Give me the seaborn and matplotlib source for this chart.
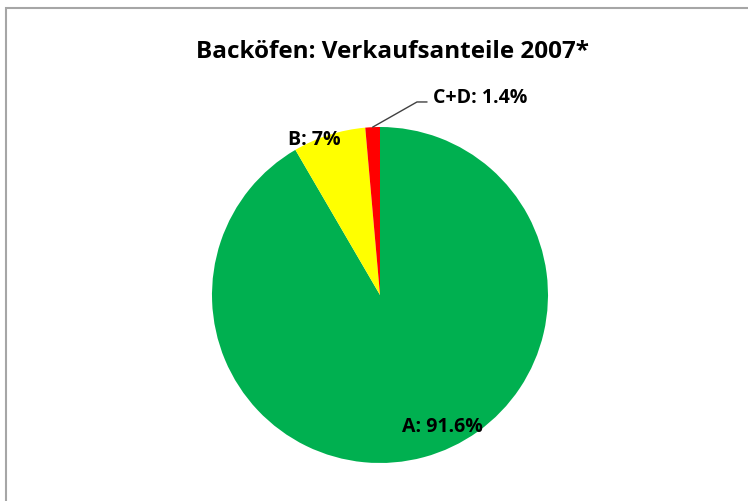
import numpy as np
import matplotlib
matplotlib.use("Agg")
import matplotlib.pyplot as plt
import seaborn as sns
from matplotlib.patches import Rectangle

sns.set_theme(style="white")
plt.rcParams['font.family'] = ['Open Sans', 'DejaVu Sans']
plt.rcParams['text.color'] = 'black'

# Daten
categories = ["A", "B", "C+D"]
shares = [91.6, 7.0, 1.4]
share_labels = ["91.6%", "7%", "1.4%"]
colors = ["#00B050", "#FFFF00", "#FF0000"]
title = "Backöfen: Verkaufsanteile 2007*"

W, H = 748, 501
fig = plt.figure(figsize=(W / 100, H / 100), dpi=100)
fig.patch.set_facecolor("white")

# Rahmen (rechts und unten abgeschnitten)
fig.patches.append(Rectangle((6 / W, -0.05), 1.1, (H - 8) / H + 0.05,
                             transform=fig.transFigure, fill=False,
                             edgecolor="#a6a6a6", linewidth=1.5))

cx, cy, r = 380, 295, 168
ax = fig.add_axes([(cx - r) / W, (H - cy - r) / H, 2 * r / W, 2 * r / H])
wedges, _ = ax.pie(shares, colors=colors, startangle=90, counterclock=False,
                   radius=1, wedgeprops=dict(linewidth=0))
ax.set_xlim(-1, 1)
ax.set_ylim(-1, 1)
ax.set_aspect("auto")
ax.axis("off")

lab = {c: f"{c}: {s}" for c, s in zip(categories, share_labels)}
fs = 14
ax.text(0.369, -0.815, lab["A"], ha="center", va="baseline", fontsize=fs, fontweight="bold")
ax.text(-0.390, 0.893, lab["B"], ha="center", va="baseline", fontsize=fs, fontweight="bold")

# Leader-Linie für C+D
w = wedges[2]
mid = np.deg2rad((w.theta1 + w.theta2) / 2)
ax.plot([np.cos(mid), 0.220, 0.280], [np.sin(mid), 1.149, 1.149],
        color="#404040", linewidth=1, clip_on=False)
ax.text(0.315, 1.143, lab["C+D"], ha="left", va="baseline", fontsize=fs, fontweight="bold")

fig.text(393 / W, 1 - 58 / H, title, ha="center", va="baseline", fontsize=17.5, fontweight="bold")

fig.savefig("out.png", dpi=100)
